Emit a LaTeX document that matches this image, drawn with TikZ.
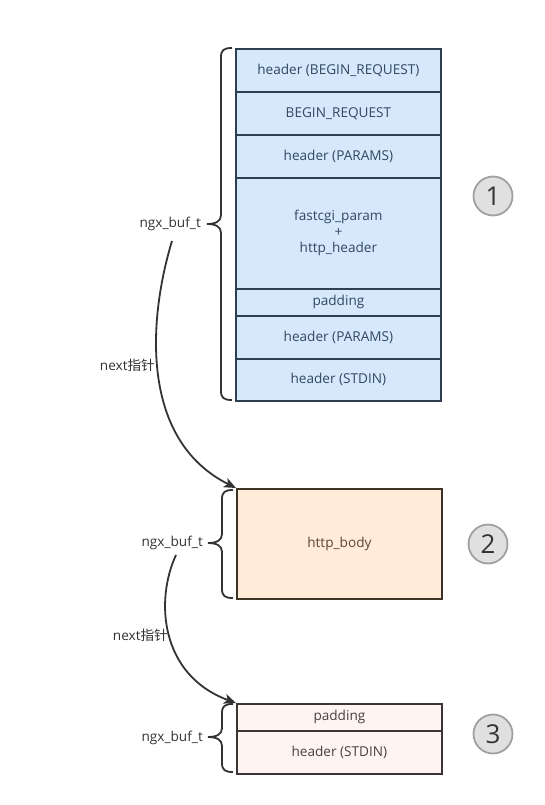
\documentclass[tikz,border=0pt]{standalone}
\usepackage{fontspec}
\setmainfont{Open Sans}
\newfontfamily\cjkf{Noto Sans CJK SC}
\usetikzlibrary{arrows.meta}
\definecolor{bluefill}{HTML}{D5E8FC}
\definecolor{blueline}{HTML}{2F3F50}
\definecolor{bluetext}{HTML}{34495E}
\definecolor{orfill}{HTML}{FFEBD8}
\definecolor{orline}{HTML}{3D3226}
\definecolor{ortext}{HTML}{5A4636}
\definecolor{pkfill}{HTML}{FFF4F2}
\definecolor{pkline}{HTML}{3B3535}
\definecolor{pktext}{HTML}{4A4040}
\definecolor{circfill}{HTML}{E0E0E0}
\definecolor{circline}{HTML}{A0A0A0}
\definecolor{dark}{HTML}{333333}
\tikzset{
  cell/.style={draw, line width=1.8pt, minimum width=205pt, anchor=north west, inner sep=0pt, font=\fontsize{13.6}{16}\selectfont, align=center},
  bluecell/.style={cell, fill=bluefill, draw=blueline, text=bluetext},
  orcell/.style={cell, fill=orfill, draw=orline, text=ortext},
  pkcell/.style={cell, fill=pkfill, draw=pkline, text=pktext},
  numcirc/.style={circle, draw=circline, fill=circfill, line width=1.8pt, minimum size=39pt, inner sep=0pt, text=dark, font=\fontsize{26}{28}\selectfont},
  lbl/.style={text=dark, font=\fontsize{13.6}{16}\selectfont, inner sep=0pt},
  bracepath/.style={draw=dark, line width=1.8pt},
  nextarrow/.style={draw=dark, line width=1.8pt, -{Stealth[length=12pt,width=10pt,inset=3pt]}},
}
\begin{document}
\begin{tikzpicture}[x=1pt,y=-1pt]
\useasboundingbox (0,0) rectangle (545,805);
% top block
\node[bluecell, minimum height=43pt] (b1) at (235,48) {header (BEGIN\_REQUEST)};
\node[bluecell, minimum height=43pt] (b2) at (235,91) {BEGIN\_REQUEST};
\node[bluecell, minimum height=43pt] (b3) at (235,134) {header (PARAMS)};
\node[bluecell, minimum height=111pt] (b4) at (235,177) {fastcgi\_param\\+\\http\_header};
\node[bluecell, minimum height=27pt] (b5) at (235,288) {padding};
\node[bluecell, minimum height=43pt] (b6) at (235,315) {header (PARAMS)};
\node[bluecell, minimum height=42pt] (b7) at (235,358) {header (STDIN)};
% second block
\node[orcell, minimum height=110pt] (c1) at (236,488) {http\_body};
% third block
\node[pkcell, minimum height=27pt] (d1) at (236,703) {padding};
\node[pkcell, minimum height=43pt] (d2) at (236,730) {header (STDIN)};
% circles
\node[numcirc] (n1) at (493,196) {1};
\node[numcirc] (n2) at (488,544) {2};
\node[numcirc] (n3) at (493,734) {3};
% braces
\coordinate (t1) at (207,224);
\coordinate (t2) at (208,543);
\coordinate (t3) at (208,737);
\draw[bracepath] (232,48) .. controls (224,48) and (221,50) .. (221,57) -- (221,215)
  .. controls (221,221) and (216,224) .. (t1) .. controls (216,224) and (221,227) .. (221,233)
  -- (221,391) .. controls (221,398) and (224,400) .. (232,400);
\draw[bracepath] (233,490) .. controls (225,490) and (222,492) .. (222,499) -- (222,534)
  .. controls (222,540) and (217,543) .. (t2) .. controls (217,543) and (222,546) .. (222,552)
  -- (222,589) .. controls (222,596) and (225,598) .. (233,598);
\draw[bracepath] (233,704) .. controls (225,704) and (222,706) .. (222,713) -- (222,728)
  .. controls (222,734) and (217,737) .. (t3) .. controls (217,737) and (222,740) .. (222,746)
  -- (222,763) .. controls (222,770) and (225,772) .. (233,772);
% labels
\node[lbl, anchor=east] (l1) at (201,224) {ngx\_buf\_t};
\node[lbl, anchor=east] (l2) at (203,543) {ngx\_buf\_t};
\node[lbl, anchor=east] (l3) at (203,738) {ngx\_buf\_t};
\node[lbl, anchor=east] (m1) at (155,365) {next{\cjkf 指针}};
\node[lbl, anchor=east] (m2) at (168,635) {next{\cjkf 指针}};
% arrows
\coordinate (s1) at (172,241);
\coordinate (s2) at (176,555);
\draw[nextarrow] (s1) .. controls (148,320) and (140,440) .. (c1.north west);
\draw[nextarrow] (s2) .. controls (155,600) and (160,675) .. (d1.north west);
\end{tikzpicture}
\end{document}
